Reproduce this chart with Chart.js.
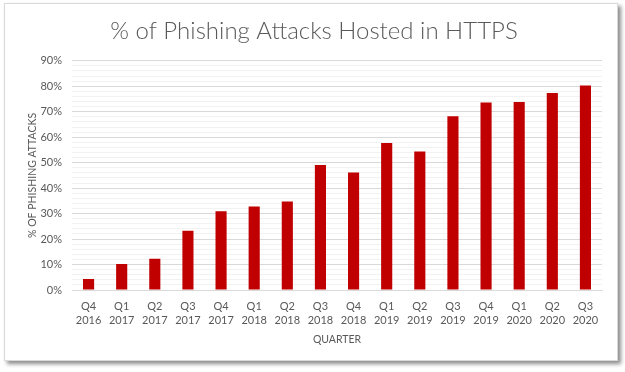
<!DOCTYPE html>
<html>
<head>
<meta charset="UTF-8">
<title>https-phishing.html</title>
<style>
	body {margin: 0; background: #fff;}
	#frame {position: absolute; left: 4px; top: 3px; width: 612px; height: 356px;
		border: 1px solid #d9d9d9; background: #fff; box-shadow: 3px 3px 4px rgba(0,0,0,0.45);}
	#wrap {position: absolute; left: 0; top: 0; width: 625px; height: 372px;}
</style>
</head>
<body>
	<div id="frame"></div>
	<div id="wrap"><canvas id="myChart" width="625" height="372"></canvas></div>
</body>
<script src="https://cdn.jsdelivr.net/npm/chart.js@4.4.0/dist/chart.umd.min.js"></script>
<script>
	// 분기 라벨 (두 줄)
	const quarters = ['Q4','Q1','Q2','Q3','Q4','Q1','Q2','Q3','Q4','Q1','Q2','Q3','Q4','Q1','Q2','Q3'];
	const years = ['2016','2017','2017','2017','2017','2018','2018','2018','2018','2019','2019','2019','2019','2020','2020','2020'];
	// HTTPS 피싱 비율(%)
	const httpsShare = [4.3, 10.2, 12.3, 23.3, 30.9, 32.8, 34.8, 49.1, 46.1, 57.7, 54.4, 68.2, 73.6, 73.8, 77.4, 80.3];
	const yMax = 90;

	const labels = quarters.map((q, i) => [q, years[i]]);
	const textColor = '#595959';
	const font = 'Lato, "Open Sans", sans-serif';

	const ctx = document.getElementById('myChart');
	new Chart(ctx, {
		type: 'bar',
		data: {
			labels: labels,
			datasets: [{
				data: httpsShare,
				backgroundColor: '#c00000',
				barPercentage: 0.42,
				categoryPercentage: 0.8
			}]
		},
		options: {
			responsive: false,
			animation: false,
			layout: {padding: {left: 26, right: 23, top: 0, bottom: 22}},
			plugins: {
				legend: {display: false},
				tooltip: {enabled: false},
				title: {
					display: true,
					text: '% of Phishing Attacks Hosted in HTTPS',
					color: textColor,
					font: {family: font, size: 24, weight: '300'},
					padding: {top: 17, bottom: 15}
				}
			},
			scales: {
				x: {
					grid: {display: false, drawTicks: false},
					border: {color: '#d9d9d9'},
					ticks: {color: textColor, font: {family: font, size: 11, lineHeight: 1.27}, padding: 9, maxRotation: 0},
					title: {display: true, text: 'QUARTER', color: textColor, font: {family: font, size: 10.5}, padding: {top: 5}},
					afterFit: function(s) { s.height = 60; }
				},
				y: {
					min: 0,
					max: yMax,
					grid: {
						drawTicks: false,
						color: c => (c.tick && c.tick.value % 10 === 0) ? '#d9d9d9' : '#f2f2f2'
					},
					border: {display: false},
					ticks: {
						stepSize: 2,
						color: textColor,
						font: {family: font, size: 11},
						padding: 10,
						autoSkip: false,
						callback: v => (v % 10 === 0) ? v + '%' : ''
					},
					title: {display: true, text: '% OF PHISHING ATTACKS', color: textColor, font: {family: font, size: 10.5}, padding: 0},
					afterFit: function(s) { s.width = 46; }
				}
			}
		}
	});
</script>
</html>
